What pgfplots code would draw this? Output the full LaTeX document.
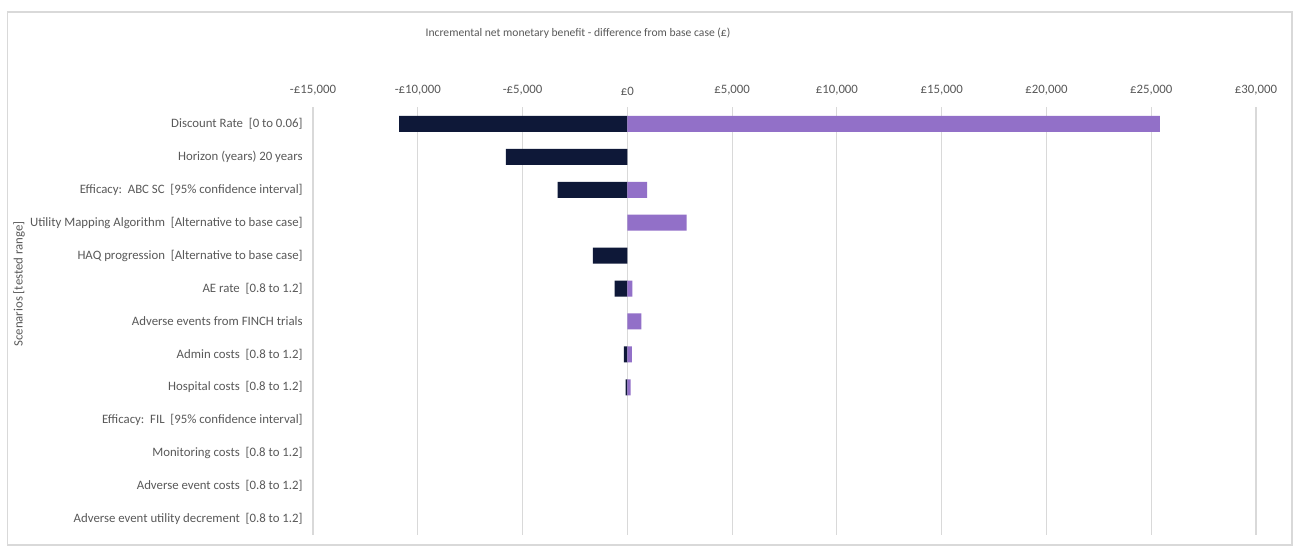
\documentclass[border=0pt]{standalone}
\usepackage{pgfplots}
\pgfplotsset{compat=1.18}
\usepackage{fontspec}
\setmainfont{Carlito}
\definecolor{navy}{RGB}{14,24,56}
\definecolor{lilac}{RGB}{146,112,200}
\definecolor{txt}{RGB}{89,89,89}
\definecolor{gridc}{RGB}{217,217,217}
\newcommand{\cf}{\fontsize{6.4}{8}\selectfont}
\begin{document}
\begin{tikzpicture}[x=0.5pt,y=0.5pt]
\fill[white] (0,0) rectangle (1301,550);
\draw[gridc, line width=0.6pt] (7.5,5) rectangle (1292,538);
\node[font=\fontsize{5.8}{7}\selectfont, text=txt] at (578,517) {Incremental net monetary benefit - difference from base case (£)};
\node[font=\cf, text=txt, rotate=90] at (19,266) {Scenarios [tested range]};
\begin{axis}[
  at={(156.5pt,7.25pt)}, anchor=south west,
  scale only axis, width=471.5pt, height=214pt,
  xmin=-15000, xmax=30000, ymin=-0.5, ymax=12.5,
  y dir=reverse,
  scaled x ticks=false,
  xtick={-15000,-10000,-5000,0,5000,10000,15000,20000,25000,30000},
  xticklabels={{-£15,000},{-£10,000},{-£5,000},{£0},{£5,000},{£10,000},{£15,000},{£20,000},{£25,000},{£30,000}},
  xticklabel pos=upper,
  xmajorgrids,
  major grid style={gridc, line width=0.6pt},
  axis line style={draw=none},
  major tick length=0pt,
  tick style={draw=none},
  ytick={0,1,2,3,4,5,6,7,8,9,10,11,12},
  yticklabels={
    {Discount Rate\ \ [0 to 0.06]},
    {Horizon (years) 20 years},
    {Efficacy:\ \ ABC SC\ \ [95\% confidence interval]},
    {Utility Mapping Algorithm\ \ [Alternative to base case]},
    {HAQ progression\ \ [Alternative to base case]},
    {AE rate\ \ [0.8 to 1.2]},
    {Adverse events from FINCH trials},
    {Admin costs\ \ [0.8 to 1.2]},
    {Hospital costs\ \ [0.8 to 1.2]},
    {Efficacy:\ \ FIL\ \ [95\% confidence interval]},
    {Monitoring costs\ \ [0.8 to 1.2]},
    {Adverse event costs\ \ [0.8 to 1.2]},
    {Adverse event utility decrement\ \ [0.8 to 1.2]}},
  ticklabel style={font=\cf, text=txt},
  xticklabel style={anchor=south, inner sep=0pt, yshift=6pt},
  yticklabel style={anchor=east, inner sep=0pt, xshift=-5pt},
]
\addplot[xbar, bar width=8pt, bar shift=0pt, fill=navy, draw=none] coordinates {
 (-10890,0) (-5800,1) (-3330,2) (-1650,4) (-610,5) (-170,7) (-80,8)};
\addplot[xbar, bar width=8pt, bar shift=0pt, fill=lilac, draw=none] coordinates {
 (25410,0) (940,2) (2830,3) (240,5) (670,6) (220,7) (160,8)};
\end{axis}
\end{tikzpicture}
\end{document}
